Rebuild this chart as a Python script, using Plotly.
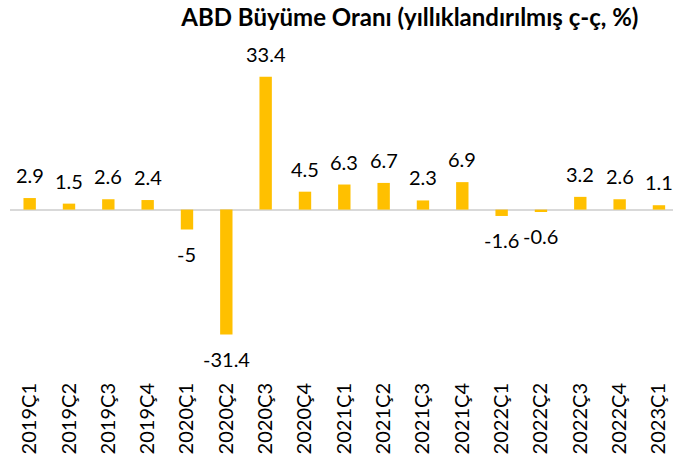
import plotly.graph_objects as go

categories = ["2019Ç1", "2019Ç2", "2019Ç3", "2019Ç4", "2020Ç1", "2020Ç2", "2020Ç3", "2020Ç4",
              "2021Ç1", "2021Ç2", "2021Ç3", "2021Ç4", "2022Ç1", "2022Ç2", "2022Ç3", "2022Ç4", "2023Ç1"]
growth = [2.9, 1.5, 2.6, 2.4, -5, -31.4, 33.4, 4.5, 6.3, 6.7, 2.3, 6.9, -1.6, -0.6, 3.2, 2.6, 1.1]
labels = ["2.9", "1.5", "2.6", "2.4", "-5", "-31.4", "33.4", "4.5", "6.3", "6.7", "2.3", "6.9",
          "-1.6", "-0.6", "3.2", "2.6", "1.1"]

FONT = "Lato"
BAR_COLOR = "#FFC000"

fig = go.Figure()
fig.add_trace(go.Bar(
    x=list(range(len(categories))),
    y=growth,
    width=0.315,
    marker=dict(color=BAR_COLOR, line=dict(width=0)),
    hoverinfo="skip",
))

for i, (v, t) in enumerate(zip(growth, labels)):
    fig.add_annotation(
        x=i, y=v, text=t, showarrow=False,
        yshift=23 if v >= 0 else -24,
        xanchor="center", yanchor="middle",
        font=dict(family=FONT, size=20, color="#000000"),
    )

fig.update_layout(
    width=673, height=455,
    margin=dict(l=10, r=0, t=40, b=77),
    paper_bgcolor="white", plot_bgcolor="white",
    showlegend=False,
    title=dict(
        text="<b>ABD Büyüme Oranı (yıllıklandırılmış ç-ç, %)</b>",
        x=0.609, xref="container", xanchor="center",
        y=1 - 18 / 455, yref="container", yanchor="middle",
        font=dict(family=FONT, size=24, color="#000000"),
    ),
    xaxis=dict(
        range=[-0.5, 16.357],
        tickmode="array",
        tickvals=list(range(len(categories))),
        ticktext=categories,
        tickangle=-90,
        showgrid=False, zeroline=False, showline=False,
        ticks="", ticklen=0,
        tickfont=dict(family=FONT, size=20, color="#000000"),
        fixedrange=True,
    ),
    yaxis=dict(
        range=[-42.3, 42.6],
        showgrid=False,
        showticklabels=False,
        zeroline=True, zerolinecolor="#D9D9D9", zerolinewidth=1.5,
        showline=False,
        fixedrange=True,
    ),
)

fig.write_html(
    "out.html",
    config={"displayModeBar": False},
    post_script="document.body.style.margin='0px';document.body.style.overflow='hidden';",
)
